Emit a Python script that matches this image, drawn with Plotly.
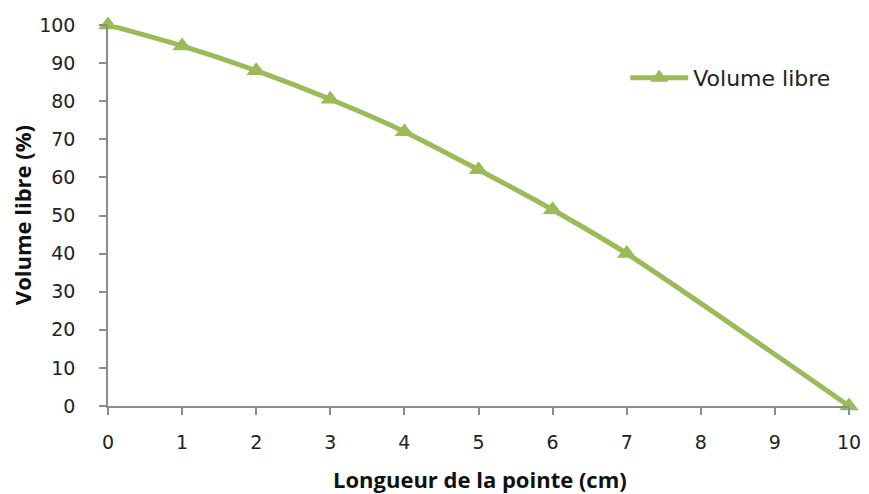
import plotly.graph_objects as go

longueur = [0, 1, 2, 3, 4, 5, 6, 7, 10]
volume_libre = [100, 94.5, 88, 80.5, 72, 62, 51.5, 40, 0]
x_ticks = list(range(0, 11))
y_ticks = list(range(0, 101, 10))

green = "#9BBB59"
fig = go.Figure()
fig.add_trace(go.Scatter(
    x=longueur, y=volume_libre, mode="lines+markers", name="Volume libre",
    line=dict(color=green, width=5, shape="spline", smoothing=0.8),
    marker=dict(symbol="triangle-up", size=17, color=green),
    cliponaxis=False,
))

axis_common = dict(
    showgrid=False, zeroline=False, showline=True, linecolor="#8c8c8c", linewidth=1.5,
    ticks="outside", ticklen=7, tickcolor="#8c8c8c", tickwidth=1.5,
    tickfont=dict(family="DejaVu Sans", size=19, color="#222"),
    automargin=False,
)
fig.update_layout(
    width=861, height=486,
    margin=dict(l=100, r=20, t=17, b=88),
    paper_bgcolor="white", plot_bgcolor="white",
    xaxis=dict(range=[0, 10], tickvals=x_ticks, ticklabelstandoff=11, **axis_common),
    yaxis=dict(range=[0, 100], tickvals=y_ticks, ticklabelstandoff=20, **axis_common),
    showlegend=True,
    legend=dict(x=0.698, y=0.861, xanchor="left", yanchor="middle", bgcolor="rgba(0,0,0,0)",
                itemwidth=58,
                font=dict(family="DejaVu Sans", size=22, color="#222")),
    annotations=[
        dict(text="<b>Longueur de la pointe (cm)</b>", xref="paper", yref="paper",
             x=0.502, y=-0.192, xanchor="center", yanchor="middle", showarrow=False,
             font=dict(family="Open Sans", size=22, color="#111")),
        dict(text="<b>Volume libre (%)</b>", xref="paper", yref="paper",
             x=-0.116, y=0.501, xanchor="center", yanchor="middle", showarrow=False, textangle=-90,
             font=dict(family="Open Sans", size=22, color="#111")),
    ],
)
fig.write_html("out.html")
